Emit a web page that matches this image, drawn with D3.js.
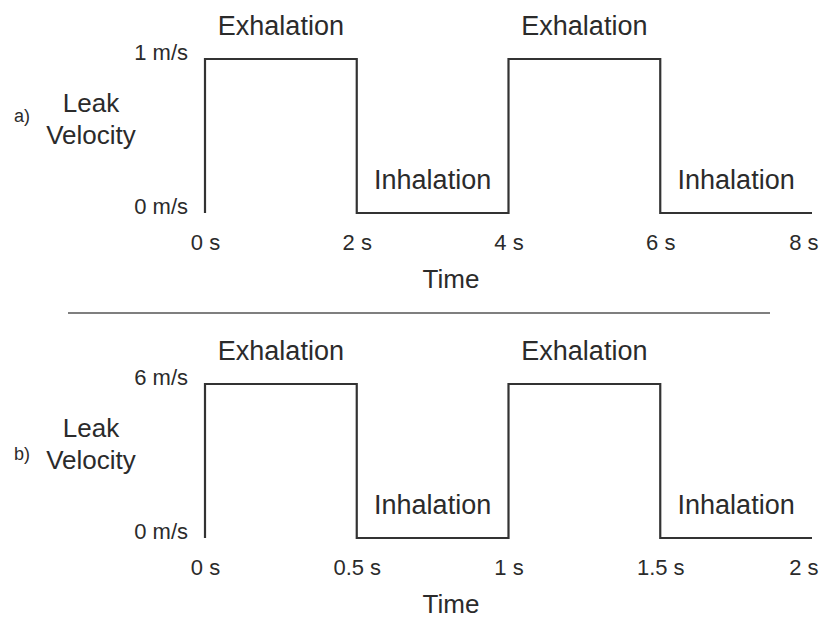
<!DOCTYPE html>
<html>
<head>
<meta charset="utf-8">
<script src="https://cdn.jsdelivr.net/npm/d3@7"></script>
<style>
  html, body { margin: 0; padding: 0; background: #fff; }
  svg { display: block; font-family: "Liberation Sans", Arial, sans-serif; }
</style>
</head>
<body>
<svg id="chart"></svg>
<script>
// panel a) data
const timeA = [0, 0, 2, 4, 6, 8];
const velocityA = [0, 1, 0, 1, 0, 0];
const xTicksA = [0, 2, 4, 6, 8];
const xLabelsA = ["0 s", "2 s", "4 s", "6 s", "8 s"];
const yTicksA = [0, 1];
const yLabelsA = ["0 m/s", "1 m/s"];

// panel b) data
const timeB = [0, 0, 0.5, 1, 1.5, 2];
const velocityB = [0, 6, 0, 6, 0, 0];
const xTicksB = [0, 0.5, 1, 1.5, 2];
const xLabelsB = ["0 s", "0.5 s", "1 s", "1.5 s", "2 s"];
const yTicksB = [0, 6];
const yLabelsB = ["0 m/s", "6 m/s"];

// phases between consecutive x ticks
const phases = ["Exhalation", "Inhalation", "Exhalation", "Inhalation"];
const phaseHigh = [true, false, true, false];

const width = 827, height = 620;
const ink = "#2b2b2b";

const svg = d3.select("#chart").attr("width", width).attr("height", height);

function drawPanel(cfg) {
  const x = d3.scaleLinear().domain(d3.extent(cfg.xTicks)).range([205, 812]);
  const y = d3.scaleLinear().domain(d3.extent(cfg.yTicks)).range([cfg.bottom, cfg.bottom - 154]);

  const g = svg.append("g");

  // step line
  const pts = cfg.time.map((t, i) => [t, cfg.velocity[i]]);
  g.append("path")
    .datum(pts)
    .attr("fill", "none")
    .attr("stroke", "#333")
    .attr("stroke-width", 2.2)
    .attr("d", d3.line().x(d => x(d[0])).y(d => y(d[1])).curve(d3.curveStepAfter));

  // y axis labels (baseline on the value)
  const yAxis = g.append("g")
    .attr("transform", `translate(${x(0)},0)`)
    .call(d3.axisLeft(y).tickValues(cfg.yTicks).tickSize(0).tickPadding(17)
      .tickFormat((d, i) => cfg.yLabels[i]));
  yAxis.select(".domain").remove();
  yAxis.selectAll("text")
    .attr("dy", 0)
    .style("font-size", "22px")
    .attr("fill", ink);

  // x axis labels
  const xAxis = g.append("g")
    .attr("transform", `translate(0,${y(0)})`)
    .call(d3.axisBottom(x).tickValues(cfg.xTicks).tickSize(0)
      .tickFormat((d, i) => cfg.xLabels[i]));
  xAxis.select(".domain").remove();
  xAxis.selectAll("text")
    .attr("y", 37)
    .attr("dy", 0)
    .style("font-size", "22px")
    .attr("fill", ink)
    .attr("text-anchor", (d, i) => i === cfg.xTicks.length - 1 ? "end" : "middle")
    .attr("dx", (d, i) => i === cfg.xTicks.length - 1 ? 6 : 0);

  // axis title
  g.append("text")
    .attr("x", 451)
    .attr("y", y(0) + 75)
    .attr("text-anchor", "middle")
    .style("font-size", "26px")
    .attr("fill", ink)
    .text("Time");

  // phase labels
  g.selectAll(".phase")
    .data(phases)
    .enter()
    .append("text")
    .attr("class", "phase")
    .attr("x", (d, i) => x((cfg.xTicks[i] + cfg.xTicks[i + 1]) / 2))
    .attr("y", (d, i) => (phaseHigh[i] ? y(cfg.yTicks[1]) : y(0)) - 24)
    .attr("text-anchor", "middle")
    .style("font-size", "27px")
    .attr("fill", ink)
    .text(d => d);

  // y title
  const yt = g.append("text")
    .attr("text-anchor", "middle")
    .style("font-size", "26px")
    .attr("fill", ink);
  yt.append("tspan").attr("x", 91).attr("y", cfg.leakY).text("Leak");
  yt.append("tspan").attr("x", 91).attr("y", cfg.leakY + 32).text("Velocity");

  // panel tag
  g.append("text")
    .attr("x", 14)
    .attr("y", cfg.tagY)
    .style("font-size", "18px")
    .attr("fill", ink)
    .text(cfg.tag);
}

drawPanel({ time: timeA, velocity: velocityA, xTicks: xTicksA, xLabels: xLabelsA,
  yTicks: yTicksA, yLabels: yLabelsA, bottom: 213, leakY: 112, tag: "a)", tagY: 122 });

drawPanel({ time: timeB, velocity: velocityB, xTicks: xTicksB, xLabels: xLabelsB,
  yTicks: yTicksB, yLabels: yLabelsB, bottom: 538, leakY: 437, tag: "b)", tagY: 460 });

// divider between panels
svg.append("line")
  .attr("x1", 68).attr("x2", 770)
  .attr("y1", 313).attr("y2", 313)
  .attr("stroke", "#555")
  .attr("stroke-width", 1.5);
</script>
</body>
</html>
